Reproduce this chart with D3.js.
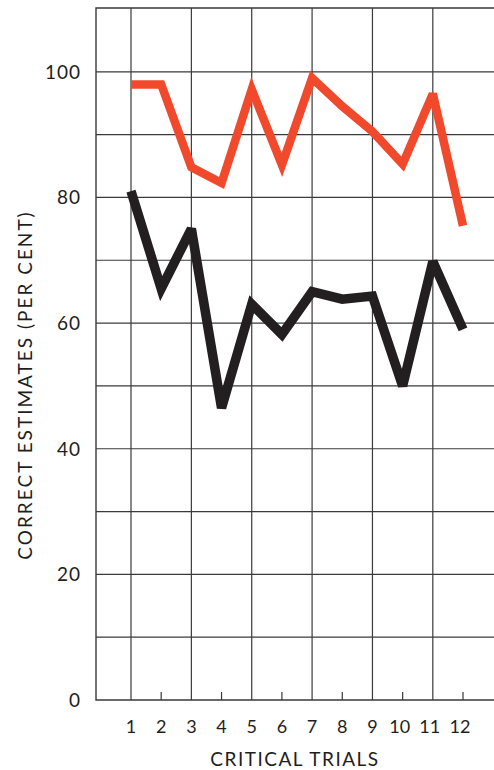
<!DOCTYPE html>
<html>
<head>
<meta charset="utf-8">
<script src="https://cdn.jsdelivr.net/npm/d3@7"></script>
<style>
  body { margin: 0; background: #fff; }
  svg text { font-family: "Lato", "DejaVu Sans", sans-serif; font-weight: 400; fill: #1e1e1e; }
</style>
</head>
<body>
<svg id="chart" width="494" height="770"></svg>
<script>
// trials along the bottom, per cent correct for the two groups
var trials = [1, 2, 3, 4, 5, 6, 7, 8, 9, 10, 11, 12];
var redSeries = [98, 98, 84.8, 82.3, 97.2, 85.2, 99, 94.5, 90.5, 85.3, 96.5, 75.5];
var blackSeries = [81, 65.5, 75, 46.5, 63, 58.2, 65, 63.8, 64.3, 50, 69.8, 59];
var yTickLabels = [0, 20, 40, 60, 80, 100];
var yGrid = [10, 20, 30, 40, 50, 60, 70, 80, 90, 100];

var plotLeft = 96, plotRight = 494, plotTop = 8, plotBottom = 700;

var svg = d3.select('#chart');
var g = svg.append('g');

var x = d3.scaleLinear().domain([1, 12]).range([131, 463]);
var y = d3.scaleLinear().domain([0, 110]).range([plotBottom, plotTop + 1]);

// horizontal grid
g.selectAll('line.hgrid')
    .data(yGrid)
    .enter()
    .append('line')
    .attr('x1', plotLeft).attr('x2', plotRight)
    .attr('y1', d => y(d)).attr('y2', d => y(d))
    .attr('stroke', '#3a3a3a')
    .attr('stroke-width', 1.2);

// vertical grid on odd trials
g.selectAll('line.vgrid')
    .data(trials.filter(t => t % 2 === 1))
    .enter()
    .append('line')
    .attr('x1', d => x(d)).attr('x2', d => x(d))
    .attr('y1', plotTop).attr('y2', plotBottom)
    .attr('stroke', '#3a3a3a')
    .attr('stroke-width', 1.2);

// small ticks on even trials
g.selectAll('line.etick')
    .data(trials.filter(t => t % 2 === 0))
    .enter()
    .append('line')
    .attr('x1', d => x(d)).attr('x2', d => x(d))
    .attr('y1', plotBottom - 8).attr('y2', plotBottom)
    .attr('stroke', '#3a3a3a')
    .attr('stroke-width', 1.2);

// frame: left, top, bottom
g.append('path')
    .attr('d', 'M' + plotRight + ',' + plotTop + 'H' + plotLeft + 'V' + plotBottom + 'H' + plotRight)
    .attr('fill', 'none')
    .attr('stroke', '#3a3a3a')
    .attr('stroke-width', 1.4);

var line = d3.line()
    .x((d, i) => x(trials[i]))
    .y(d => y(d));

g.append('path')
    .datum(redSeries)
    .attr('d', line)
    .attr('fill', 'none')
    .attr('stroke', '#f0492c')
    .attr('stroke-width', 8.5)
    .attr('stroke-linejoin', 'miter')
    .attr('stroke-miterlimit', 3);

g.append('path')
    .datum(blackSeries)
    .attr('d', line)
    .attr('fill', 'none')
    .attr('stroke', '#231f20')
    .attr('stroke-width', 9.5)
    .attr('stroke-linejoin', 'miter')
    .attr('stroke-miterlimit', 3);

// y tick labels
g.selectAll('text.ylab')
    .data(yTickLabels)
    .enter()
    .append('text')
    .attr('x', 81)
    .attr('y', d => y(d))
    .attr('dy', '0.36em')
    .attr('text-anchor', 'end')
    .style('font-size', '19px')
    .style('letter-spacing', '1px')
    .text(d => d);

// x tick labels
g.selectAll('text.xlab')
    .data(trials)
    .enter()
    .append('text')
    .attr('x', d => x(d) - (d >= 10 ? 3 : 0))
    .attr('y', 733)
    .attr('text-anchor', 'middle')
    .style('font-size', '18px')
    .text(d => d);

g.append('text')
    .attr('x', 295)
    .attr('y', 766)
    .attr('text-anchor', 'middle')
    .style('font-size', '19px')
    .style('letter-spacing', '1.5px')
    .text('CRITICAL TRIALS');

g.append('text')
    .attr('transform', 'translate(32,385) rotate(-90)')
    .attr('text-anchor', 'middle')
    .style('font-size', '19px')
    .style('letter-spacing', '2px')
    .text('CORRECT ESTIMATES (PER CENT)');
</script>
</body>
</html>
